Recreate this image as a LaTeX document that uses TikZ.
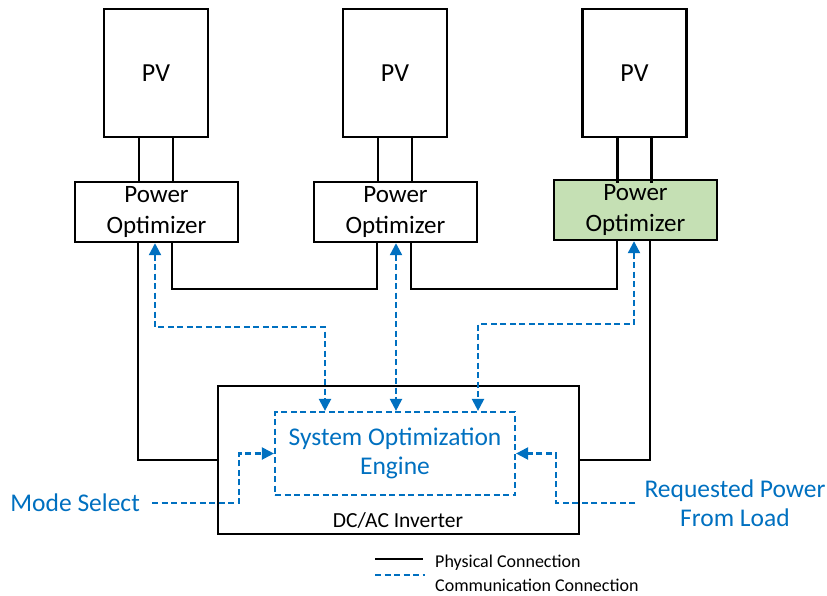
\documentclass[tikz,border=0pt]{standalone}
\usepackage{fontspec}
\setmainfont{Carlito}
\usetikzlibrary{arrows.meta,calc}
\definecolor{cblue}{HTML}{0070C0}
\definecolor{cgreen}{HTML}{C5E0B4}
\begin{document}
\begin{tikzpicture}[x=1pt,y=-1pt,
  box/.style={draw=black,line width=2.4pt,inner sep=0pt,align=center,font=\fontsize{25}{31}\selectfont},
  pvbox/.style={box,minimum width=104pt,minimum height=128pt,font=\fontsize{26}{31}\selectfont},
  pobox/.style={box,minimum width=163pt,minimum height=60pt},
  phys/.style={draw=black,line width=2.4pt},
  comm/.style={draw=cblue,line width=2.2pt,dash pattern=on 6pt off 3.5pt,
    >={Triangle[length=12pt,width=12pt]}},
  lbl/.style={text=cblue,font=\fontsize{25.5}{29.5}\selectfont,align=center},
  leg/.style={font=\fontsize{18}{20}\selectfont,anchor=west,inner sep=0pt}]
\useasboundingbox (0,0) rectangle (827,595);
% PV panels
\node[pvbox] (pv1) at (156,73) {PV};
\node[pvbox] (pv2) at (395,73) {PV};
\node[pvbox] (pv3) at (634.5,73) {PV};
% Power optimizers
\node[pobox] (po1) at (156.5,212) {Power\\Optimizer};
\node[pobox] (po2) at (395.5,212) {Power\\Optimizer};
\node[pobox,fill=cgreen] (po3) at (635.5,210) {Power\\Optimizer};
% inverter
\node[draw=black,line width=2.4pt,minimum width=361pt,minimum height=148pt,inner sep=0pt] (inv) at (398.5,460) {};
\node[font=\fontsize{21.5}{24}\selectfont,inner sep=0pt] (invlbl) at (398,520) {DC/AC Inverter};
\node[draw=cblue,line width=2.2pt,dash pattern=on 6pt off 3.5pt,minimum width=240pt,minimum height=83pt,inner sep=0pt,
  lbl] (soe) at (395,453.5) {System Optimization\\Engine};
% leads PV -> PO
\foreach \i in {1,2,3}{
  \draw[phys] ($(pv\i.south)+(-17,0)$) -- ($(pv\i.south)+(-17,45)$);
  \draw[phys] ($(pv\i.south)+(17,0)$) -- ($(pv\i.south)+(17,45)$);
}
% physical connections
\draw[phys] ($(po1.south)+(-18.5,0)$) |- (inv.west);
\draw[phys] ($(po1.south)+(15.5,0)$) -- ($(po1.south)+(15.5,46)$) -| ($(po2.south)+(-18.5,0)$);
\draw[phys] ($(po2.south)+(15.5,0)$) -- ($(po2.south)+(15.5,46)$) -| ($(po3.south)+(-18.5,0)$);
\draw[phys] ($(po3.south)+(14.5,0)$) |- (inv.east);
% communication connections
\draw[comm,<->] ($(po1.south)+(-1.5,0)$) -- ($(po1.south)+(-1.5,84)$) -| ($(soe.north)+(-70,0)$);
\draw[comm,<->] ($(po2.south)+(0.5,0)$) -- ($(soe.north)+(1,0)$);
\draw[comm,<->] ($(po3.south)+(-1.5,0)$) -- ($(po3.south)+(-1.5,83)$) -| ($(soe.north)+(83,0)$);
% external inputs
\node[lbl,anchor=east,inner xsep=12pt,inner ysep=0pt] (mode) at (152,503) {Mode Select};
\node[lbl,inner xsep=9pt,inner ysep=0pt] (req) at (735,503) {Requested Power\\From Load};
\draw[comm,->] (mode.east) -| ($(soe.west)+(-35,0)$) -- (soe.west);
\draw[comm,->] (req.west) -| ($(soe.east)+(40,0)$) -- (soe.east);
% legend
\coordinate (l1a) at (375,559);
\coordinate (l1b) at (423,559);
\coordinate (l2a) at (375,575);
\coordinate (l2b) at (425,575);
\draw[phys] (l1a) -- (l1b);
\draw[comm] (l2a) -- (l2b);
\node[leg] (t1) at (435,563) {Physical Connection};
\node[leg] (t2) at (435,585) {Communication Connection};
\end{tikzpicture}
\end{document}
